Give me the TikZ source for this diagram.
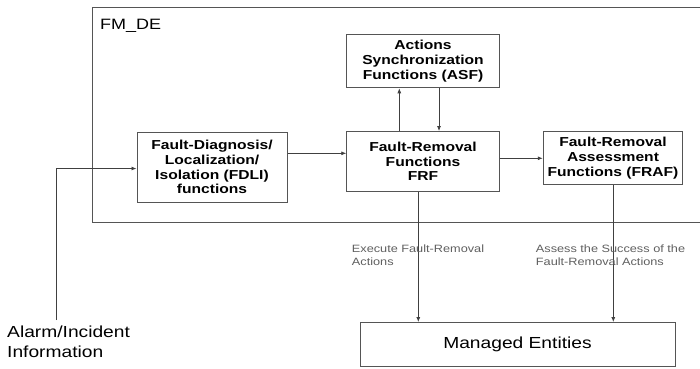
\documentclass[tikz,border=0pt]{standalone}
\usepackage{fontspec}
\setmainfont[FakeStretch=1.2]{Liberation Sans}
\usetikzlibrary{arrows.meta}
\definecolor{boxc}{HTML}{555555}
\definecolor{linec}{HTML}{404040}
\definecolor{lblc}{HTML}{606060}
\tikzset{
  fbox/.style={draw=boxc, line width=1pt, rectangle, align=center, inner sep=0pt,
    font=\fontsize{13}{14.7}\selectfont\bfseries},
  arr/.style={draw=linec, line width=0.8pt, -{Latex[length=5pt,width=4pt]}},
  lbl/.style={anchor=north west, align=left, inner sep=0pt, text=lblc,
    font=\fontsize{10.6}{12.7}\selectfont},
  big/.style={font=\fontsize{16}{20}\selectfont, inner sep=0pt}
}
\begin{document}
\begin{tikzpicture}[x=1pt,y=-1pt]
\clip (0,0) rectangle (700,368);
\fill[white] (0,0) rectangle (700,368);
% outer FM_DE box
\node[draw=boxc, line width=1pt, minimum width=620pt, minimum height=215pt, anchor=north west, inner sep=0pt] (fmde) at (92,7) {};
\node[big, font=\fontsize{15}{18}\selectfont, anchor=west] (fmdelbl) at (100,26) {FM\_DE};
% function boxes
\node[fbox, minimum width=150pt, minimum height=70pt] (fdli) at (212,167) {Fault-Diagnosis/\\Localization/\\Isolation (FDLI)\\functions};
\node[fbox, minimum width=152.5pt, minimum height=53.5pt] (asf) at (423,61) {Actions\\Synchronization\\Functions (ASF)};
\node[fbox, minimum width=152.5pt, minimum height=59.5pt] (frf) at (423,161.3) {Fault-Removal\\Functions\\FRF};
\node[fbox, minimum width=139.5pt, minimum height=53pt] (fraf) at (613,158) {Fault-Removal\\Assessment\\Functions (FRAF)};
\node[draw=boxc, line width=1pt, minimum width=315pt, minimum height=43.5pt, big] (me) at (517.5,344.3) {Managed Entities};
% alarm input
\node[big, anchor=north west, align=left] (alarm) at (7,325.5) {Alarm/Incident\\Information};
\coordinate (alarmtop) at (56.7,320);
\draw[arr] (alarmtop) |- (fdli.west |- 0,168.5);
% connections
\draw[arr] (fdli.east |- 0,153.3) -- (frf.west |- 0,153.3);
\draw[arr] (frf.east |- 0,158.3) -- (fraf.west |- 0,158.3);
\draw[arr] (frf.north -| 399.3,0) -- (asf.south -| 399.3,0);
\draw[arr] (asf.south -| 439,0) -- (frf.north -| 439,0);
\draw[arr] (frf.south -| 418.3,0) -- (me.north -| 418.3,0);
\draw[arr] (fraf.south -| 613.3,0) -- (me.north -| 613.3,0);
% labels
\node[lbl] (exe) at (351.7,244.5) {Execute Fault-Removal\\Actions};
\node[lbl] (ass) at (535.7,244.5) {Assess the Success of the\\Fault-Removal Actions};
\end{tikzpicture}
\end{document}
